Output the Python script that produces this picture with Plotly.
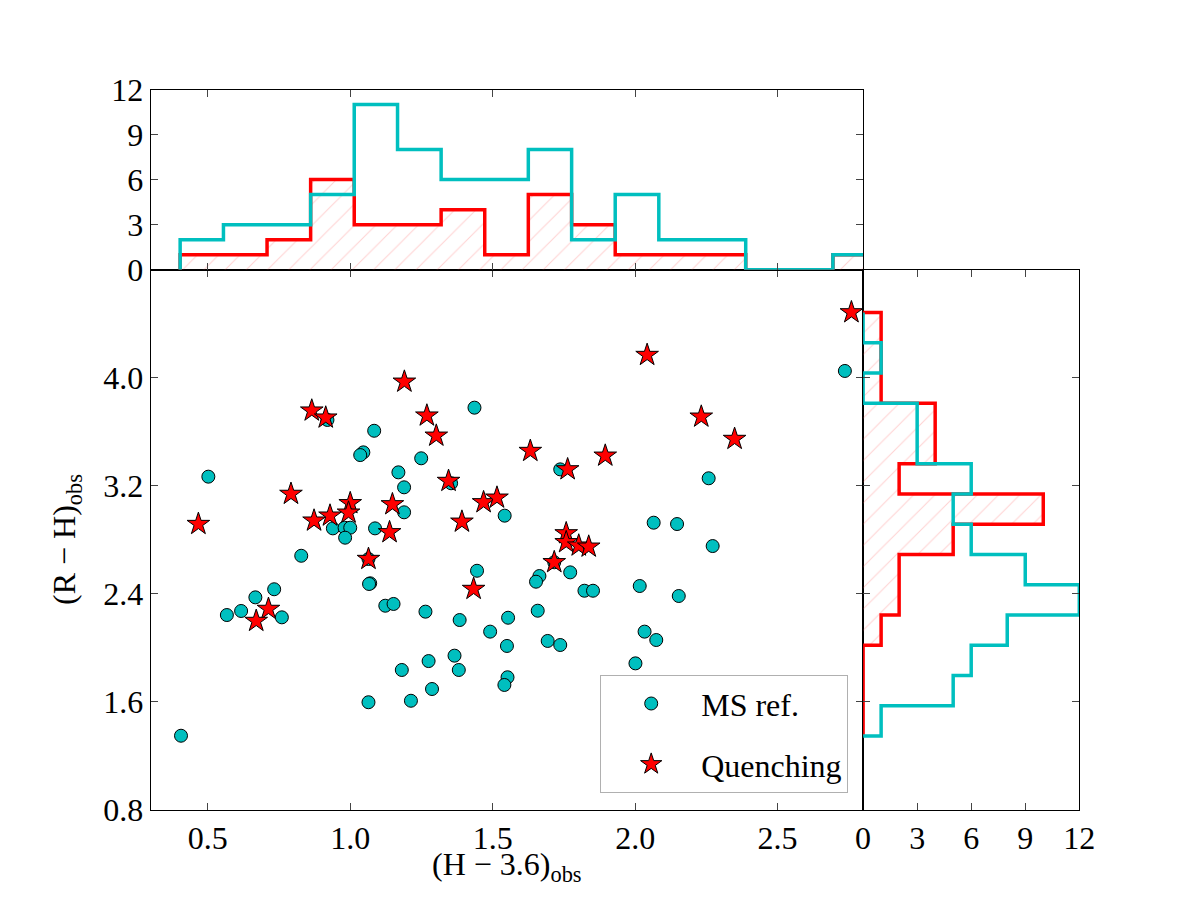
import numpy as np
import plotly.graph_objects as go

# ---------------- data ----------------
ms_x = [0.502, 0.920, 1.436, 1.084, 1.046, 1.035, 1.249, 1.169, 1.189, 1.354,
        1.542, 1.189, 0.939, 0.980, 1.000, 0.982, 1.087, 0.828, 2.736, 1.737,
        2.258, 2.065, 2.147, 2.272, 1.664, 1.652, 1.772, 1.822, 1.852, 2.016,
        2.153, 1.658, 1.491, 1.554, 1.550, 1.693, 1.737, 2.033, 2.074, 2.001,
        1.552, 1.541, 0.406, 1.070, 1.066, 1.445, 0.667, 0.733, 0.567, 0.617,
        0.760, 1.123, 1.152, 1.264, 1.384, 1.366, 1.275, 1.181, 1.381, 1.287,
        1.064, 1.213, 1.064, 1.716]
ms_y = [3.267, 3.687, 3.778, 3.607, 3.447, 3.427, 3.403, 3.299, 3.188, 3.218,
        2.978, 3.003, 2.884, 2.889, 2.889, 2.815, 2.884, 2.681, 4.050, 3.321,
        3.255, 2.926, 2.916, 2.753, 2.531, 2.489, 2.558, 2.422, 2.422, 2.457,
        2.383, 2.274, 2.119, 2.222, 2.013, 2.050, 2.020, 2.119, 2.057, 1.884,
        1.781, 1.724, 1.348, 2.477, 2.472, 2.570, 2.373, 2.433, 2.242, 2.272,
        2.225, 2.311, 2.324, 2.267, 2.205, 1.941, 1.901, 1.835, 1.835, 1.694,
        1.596, 1.607, 2.657, 2.633]

q_x = [0.467, 0.792, 0.865, 0.914, 1.190, 1.269, 1.302, 1.345, 1.468, 1.515,
       1.392, 1.148, 1.000, 0.994, 0.929, 0.873, 1.138, 1.064, 1.433, 0.713,
       0.670, 2.759, 2.042, 2.232, 2.349, 1.632, 1.895, 1.763, 1.758, 1.758,
       1.802, 1.837, 1.716]
q_y = [2.916, 3.139, 3.756, 3.704, 3.970, 3.719, 3.570, 3.235, 3.077, 3.111,
       2.933, 3.062, 3.070, 3.000, 2.978, 2.941, 2.855, 2.657, 2.435, 2.287,
       2.198, 4.484, 4.168, 3.711, 3.546, 3.457, 3.422, 3.321, 2.847, 2.781,
       2.756, 2.748, 2.633]

# histogram of (H-3.6) : bin edges and counts
hx_edges = [0.403, 0.555, 0.708, 0.861, 1.014, 1.166, 1.319, 1.472, 1.625,
            1.777, 1.930, 2.083, 2.236, 2.388, 2.541, 2.694, 2.847]
hx_ms = [2, 3, 3, 5, 11, 8, 6, 6, 8, 2, 5, 2, 2, 0, 0, 1]
hx_q = [1, 1, 2, 6, 3, 3, 4, 1, 5, 3, 1, 1, 1, 0, 0, 1]

# histogram of (R-H) : bin edges and counts
hy_edges = [1.346, 1.570, 1.794, 2.019, 2.243, 2.467, 2.691, 2.915, 3.139,
            3.363, 3.587, 3.811, 4.035, 4.259, 4.483]
hy_ms = [1, 5, 6, 8, 12, 9, 6, 5, 6, 3, 3, 0, 1, 0]
hy_q = [0, 0, 0, 1, 2, 2, 5, 10, 2, 4, 4, 1, 1, 1]

main_xticks = [0.5, 1.0, 1.5, 2.0, 2.5]
main_yticks = [0.8, 1.6, 2.4, 3.2, 4.0]
hist_ticks = [0, 3, 6, 9, 12]

# ---------------- style ----------------
CYAN = "#00BFBF"
RED = "#FF0000"
FONT = "Liberation Serif"
FS = 32


def step_outline(edges, counts):
    e = np.asarray(edges, dtype=float)
    c = np.asarray(counts, dtype=float)
    pos = np.repeat(e, 2)
    val = np.concatenate([[0.0], np.repeat(c, 2), [0.0]])
    return pos, val


hatch = dict(shape="/", fgcolor="rgba(255,90,90,0.55)", bgcolor="rgba(0,0,0,0)",
             size=15, solidity=0.07)

fig = go.Figure()

# top histogram
px_, vx_ = step_outline(hx_edges, hx_q)
fig.add_trace(go.Scatter(x=px_, y=vx_, mode="lines", xaxis="x2", yaxis="y2",
                         line=dict(color=RED, width=3.5), fill="toself",
                         fillcolor="rgba(0,0,0,0)", fillpattern=hatch,
                         showlegend=False, hoverinfo="skip"))
px_, vx_ = step_outline(hx_edges, hx_ms)
fig.add_trace(go.Scatter(x=px_, y=vx_, mode="lines", xaxis="x2", yaxis="y2",
                         line=dict(color=CYAN, width=3.5),
                         showlegend=False, hoverinfo="skip"))

# right histogram
py_, vy_ = step_outline(hy_edges, hy_q)
fig.add_trace(go.Scatter(x=vy_, y=py_, mode="lines", xaxis="x3", yaxis="y3",
                         line=dict(color=RED, width=3.5), fill="toself",
                         fillcolor="rgba(0,0,0,0)", fillpattern=hatch,
                         showlegend=False, hoverinfo="skip"))
py_, vy_ = step_outline(hy_edges, hy_ms)
fig.add_trace(go.Scatter(x=vy_, y=py_, mode="lines", xaxis="x3", yaxis="y3",
                         line=dict(color=CYAN, width=3.5),
                         showlegend=False, hoverinfo="skip"))

# main scatter
fig.add_trace(go.Scatter(x=ms_x, y=ms_y, mode="markers", name="MS ref.",
                         legendgroup="a",
                         marker=dict(symbol="circle", size=13, color=CYAN,
                                     line=dict(color="black", width=1))))
fig.add_trace(go.Scatter(x=q_x, y=q_y, mode="markers", name="Quenching",
                         legendgroup="b",
                         marker=dict(symbol="star", size=17, color=RED,
                                     line=dict(color="black", width=1))))

axis_common = dict(showgrid=False, zeroline=False, showline=True, linecolor="black",
                   linewidth=1.3, mirror="ticks", ticks="inside", ticklen=7,
                   tickwidth=1, tickcolor="#444", automargin=False,
                   tickfont=dict(family=FONT, size=FS, color="black"))

xd_main = [150.8 / 1200, 863.1 / 1200]
yd_main = [1 - 809.7 / 900, 1 - 269.7 / 900]
yd_top = [1 - 269.7 / 900, 1 - 89.5 / 900]
xd_right = [863.1 / 1200, 1079.3 / 1200]

fig.update_layout(
    width=1200, height=900, autosize=False,
    margin=dict(l=0, r=0, t=0, b=0, pad=0, autoexpand=False),
    paper_bgcolor="white", plot_bgcolor="white",
    font=dict(family=FONT, size=FS, color="black"),
    xaxis=dict(axis_common, domain=xd_main, anchor="y", range=[0.3, 2.8],
               tickvals=main_xticks, tickformat=".1f"),
    yaxis=dict(axis_common, domain=yd_main, anchor="x", range=[0.8, 4.8],
               tickvals=main_yticks, tickformat=".1f"),
    xaxis2=dict(axis_common, domain=xd_main, anchor="y2", matches="x",
                tickvals=main_xticks, showticklabels=False),
    yaxis2=dict(axis_common, domain=yd_top, anchor="x2", range=[0, 12],
                tickvals=hist_ticks),
    xaxis3=dict(axis_common, domain=xd_right, anchor="y3", range=[0, 12],
                tickvals=hist_ticks),
    yaxis3=dict(axis_common, domain=yd_main, anchor="x3", matches="y",
                tickvals=main_yticks, showticklabels=False),
    legend=dict(x=848 / 1200, xanchor="right", y=1 - 793 / 900, yanchor="bottom",
                bgcolor="white", bordercolor="#b0b0b0", borderwidth=1.2,
                font=dict(family=FONT, size=FS), tracegroupgap=16,
                traceorder="grouped", itemwidth=90),
    showlegend=True,
)

fig.add_annotation(text="(H − 3.6)<sub>obs</sub>", xref="paper", yref="paper",
                   x=507 / 1200, y=1 - 866 / 900, xanchor="center", yanchor="middle",
                   showarrow=False, font=dict(family=FONT, size=FS))
fig.add_annotation(text="(R − H)<sub>obs</sub>", xref="paper", yref="paper",
                   x=66 / 1200, y=1 - 540 / 900, xanchor="center", yanchor="middle",
                   textangle=-90, showarrow=False, font=dict(family=FONT, size=FS))

fig.write_html("out.html")
